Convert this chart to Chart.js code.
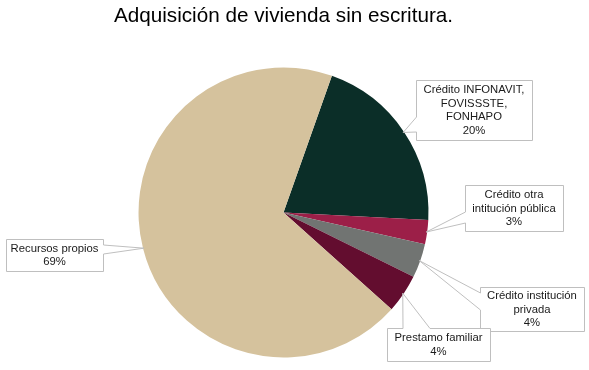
<!DOCTYPE html>
<html>
<head>
<meta charset="utf-8">
<script src="https://cdn.jsdelivr.net/npm/chart.js@4.4.0/dist/chart.umd.min.js"></script>
<style>
  body { margin: 0; background: #fff; }
</style>
</head>
<body>
<canvas id="myChart" width="589" height="370"></canvas>
<script>
// data
const categories = [
  ['Crédito INFONAVIT,', 'FOVISSSTE,', 'FONHAPO'],
  ['Crédito otra', 'intitución pública'],
  ['Crédito institución', 'privada'],
  ['Prestamo familiar'],
  ['Recursos propios']
];
const values = [20.4, 2.7, 3.8, 4.3, 68.8];
const colors = ['#0B2E28', '#9C1F48', '#717472', '#630D2F', '#D5C29D'];

// callout boxes (x, y, w, h) and where the pointer leaves the box
const callouts = [
  { x: 416, y: 80, w: 116, h: 60, side: 'left', b: [117, 132] },
  { x: 465, y: 185, w: 98, h: 46, side: 'left', b: [212, 223] },
  { x: 480, y: 287, w: 104, h: 44, side: 'left', b: [293, 310] },
  { x: 387, y: 328, w: 103, h: 33, side: 'top', b: [403, 430] },
  { x: 6, y: 239, w: 97, h: 32, side: 'right', b: [245, 254] }
];

const labelFont = '11.3px "Liberation Sans", Arial, sans-serif';

const calloutPlugin = {
  id: 'callouts',
  afterDatasetsDraw(chart) {
    const ctx = chart.ctx;
    const meta = chart.getDatasetMeta(0);
    const total = values.reduce((a, b) => a + b, 0);
    ctx.save();
    meta.data.forEach((arc, i) => {
      const c = callouts[i];
      const mid = (arc.startAngle + arc.endAngle) / 2;
      const r = arc.outerRadius - 1;
      const tx = arc.x + Math.cos(mid) * r;
      const ty = arc.y + Math.sin(mid) * r;
      const x0 = c.x + 0.5, y0 = c.y + 0.5, x1 = c.x + c.w + 0.5, y1 = c.y + c.h + 0.5;
      ctx.beginPath();
      if (c.side === 'left') {
        ctx.moveTo(x0, y0); ctx.lineTo(x1, y0); ctx.lineTo(x1, y1); ctx.lineTo(x0, y1);
        ctx.lineTo(x0, c.b[1]); ctx.lineTo(tx, ty); ctx.lineTo(x0, c.b[0]);
      } else if (c.side === 'top') {
        ctx.moveTo(x0, y0); ctx.lineTo(c.b[0], y0); ctx.lineTo(tx, ty); ctx.lineTo(c.b[1], y0);
        ctx.lineTo(x1, y0); ctx.lineTo(x1, y1); ctx.lineTo(x0, y1);
      } else {
        ctx.moveTo(x0, y0); ctx.lineTo(x1, y0); ctx.lineTo(x1, c.b[0]); ctx.lineTo(tx, ty);
        ctx.lineTo(x1, c.b[1]); ctx.lineTo(x1, y1); ctx.lineTo(x0, y1);
      }
      ctx.closePath();
      ctx.fillStyle = '#ffffff';
      ctx.fill();
      ctx.strokeStyle = '#BFBFBF';
      ctx.lineWidth = 1;
      ctx.stroke();

      // text
      const lines = categories[i].concat([Math.round(values[i] / total * 100) + '%']);
      const lh = 13.5;
      const cx = c.x + c.w / 2;
      const startY = c.y + c.h / 2 - (lines.length - 1) * lh / 2;
      ctx.font = labelFont;
      ctx.fillStyle = '#1a1a1a';
      ctx.textAlign = 'center';
      ctx.textBaseline = 'middle';
      lines.forEach((t, k) => ctx.fillText(t, cx, startY + k * lh + 0.5));
    });
    ctx.restore();
  }
};

// config
const config = {
  type: 'pie',
  data: {
    labels: categories,
    datasets: [{
      data: values,
      backgroundColor: colors,
      borderWidth: 0
    }]
  },
  options: {
    responsive: false,
    animation: false,
    devicePixelRatio: 1,
    rotation: 19.5,
    layout: {
      padding: { top: 0, bottom: 12.5, left: 95, right: 117 }
    },
    plugins: {
      legend: { display: false },
      tooltip: { enabled: false },
      title: {
        display: true,
        text: 'Adquisición de vivienda sin escritura.',
        color: '#000000',
        font: { family: '"Liberation Sans", Arial, sans-serif', size: 20.7, weight: 'normal' },
        padding: { top: 4, bottom: 38.7 }
      }
    }
  },
  plugins: [calloutPlugin]
};

// render init block
const myChart = new Chart(document.getElementById('myChart'), config);
</script>
</body>
</html>
